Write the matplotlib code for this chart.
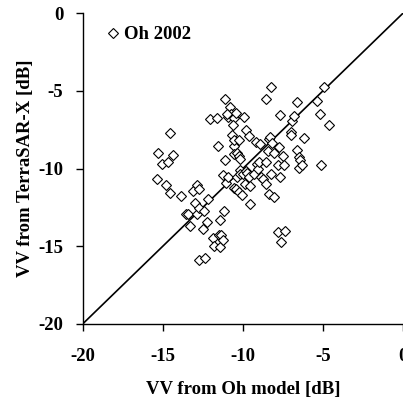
import matplotlib
matplotlib.use('Agg')
import matplotlib.pyplot as plt

# VV backscatter: Oh model vs TerraSAR-X (dB)
oh_model = [-15.27, -15.02, -14.69, -14.52, -14.35, -15.38, -14.81, -14.52, -13.85, -13.54,
            -13.44, -13.29, -13.13, -12.88, -12.75, -12.98, -12.88, -12.75, -12.71, -12.38,
            -12.42, -12.50, -12.23, -12.17, -12.04, -11.63, -11.52, -11.42, -11.88, -11.77,
            -11.46, -11.38, -11.42, -11.23, -11.17, -11.13, -11.13, -11.25, -11.08, -10.92,
            -10.79, -10.71, -10.98, -10.52, -10.40, -10.63, -10.69, -10.58, -10.52, -10.56,
            -10.35, -10.23, -10.90, -10.58, -10.40, -10.25, -10.08, -10.23, -10.38, -10.17,
            -10.15, -9.94, -9.81, -9.63, -10.17, -10.00, -9.81, -9.73, -9.88, -9.60,
            -9.52, -9.52, -9.33, -9.17, -9.13, -9.06, -8.92, -9.00, -8.85, -8.71,
            -8.56, -8.56, -8.56, -8.35, -8.42, -8.29, -8.23, -8.35, -8.23, -8.17,
            -8.04, -8.04, -7.83, -7.71, -7.65, -7.67, -7.79, -7.60, -7.38, -7.46,
            -7.40, -7.00, -6.98, -6.96, -6.81, -6.60, -6.63, -6.48, -6.44, -6.50,
            -6.29, -6.17, -5.38, -5.19, -5.10, -4.92, -4.65]
terrasar = [-8.97, -9.72, -9.59, -7.73, -9.14, -10.69, -11.07, -11.59, -11.78, -12.90,
            -12.90, -13.71, -11.42, -11.07, -11.29, -12.19, -12.90, -12.53, -15.86, -15.73,
            -12.75, -13.91, -13.41, -11.95, -6.80, -6.72, -8.52, -13.33, -14.46, -14.98,
            -14.29, -14.25, -15.04, -14.57, -12.73, -5.52, -9.44, -10.43, -10.90, -6.70,
            -6.05, -6.51, -6.46, -6.72, -6.42, -7.19, -7.85, -8.56, -8.13, -9.03,
            -8.99, -9.21, -10.54, -11.27, -11.31, -11.48, -11.70, -8.15, -10.52, -10.11,
            -9.40, -6.65, -7.53, -7.92, -10.34, -10.34, -10.15, -10.26, -11.01, -10.56,
            -11.12, -12.27, -10.34, -8.30, -9.70, -10.00, -8.43, -9.55, -10.52, -10.69,
            -11.01, -5.49, -9.57, -8.07, -8.84, -7.96, -4.74, -11.63, -10.36, -8.37,
            -11.80, -9.01, -9.79, -8.63, -10.56, -6.52, -14.10, -14.72, -13.99, -9.21,
            -9.79, -7.62, -7.81, -6.91, -6.59, -5.73, -8.82, -9.27, -9.46, -9.96,
            -9.79, -8.03, -5.64, -6.50, -9.74, -4.72, -7.21]

x_ticks = [-20, -15, -10, -5, 0]
y_ticks = [-20, -15, -10, -5, 0]

plt.rcParams['font.family'] = ['Liberation Serif', 'DejaVu Serif']
plt.rcParams['font.weight'] = 'bold'
plt.rcParams['axes.unicode_minus'] = False

fig = plt.figure(figsize=(4.03, 4.0), dpi=100)
ax = fig.add_axes([0.205, 0.19, 0.795, 0.777])

ax.plot([-20, 0], [-20, 0], color='black', linewidth=1.2)
ax.plot(oh_model, terrasar, linestyle='none', marker='D', markersize=5,
        markerfacecolor='white', markeredgecolor='black', markeredgewidth=0.8,
        label='Oh 2002')

ax.set_xlim(-20, 0)
ax.set_ylim(-20, 0)
ax.set_xticks(x_ticks)
ax.set_yticks(y_ticks)
ax.tick_params(direction='out', length=5, width=1, labelsize=13.5)
ax.tick_params(axis='x', pad=12)
ax.tick_params(axis='y', pad=9)
for lab in ax.get_xticklabels() + ax.get_yticklabels():
    lab.set_fontweight('bold')

ax.spines['top'].set_visible(False)
ax.spines['right'].set_visible(False)
ax.spines['left'].set_linewidth(1)
ax.spines['bottom'].set_linewidth(1)

ax.set_xlabel('VV from Oh model [dB]', fontsize=13.5, fontweight='bold', labelpad=12)
ax.set_ylabel('VV from TerraSAR-X [dB]', fontsize=13.5, fontweight='bold', labelpad=3)

ax.legend(loc='upper left', bbox_to_anchor=(0.042, 0.982), frameon=False,
          handletextpad=0.1, handlelength=1.0, borderaxespad=0.0,
          prop={'weight': 'bold', 'size': 13.5})

fig.savefig('out.png', dpi=100)
